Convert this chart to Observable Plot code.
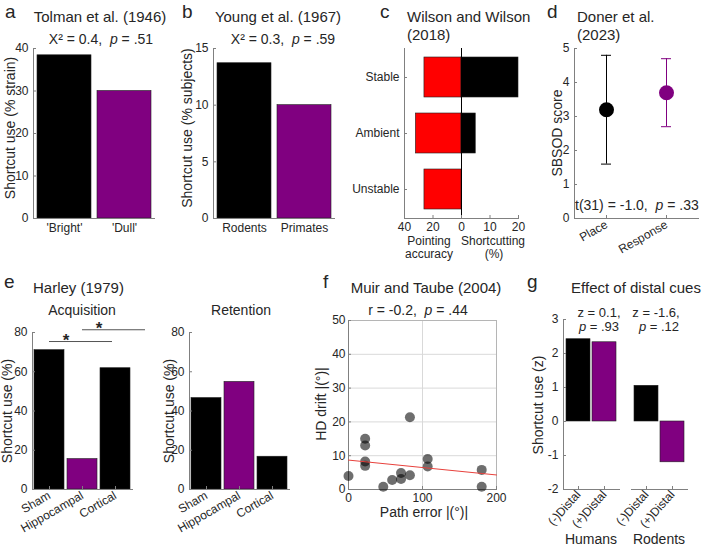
<!DOCTYPE html>
<html>
<head>
<meta charset="utf-8">
<script src="https://cdn.jsdelivr.net/npm/d3@7"></script>
<script src="https://cdn.jsdelivr.net/npm/@observablehq/plot@0.6"></script>
<style>
  html, body { margin: 0; padding: 0; background: #fff; }
  #fig { position: relative; width: 709px; height: 546px; overflow: hidden;
         font-family: "Liberation Sans", Arial, sans-serif; color: #262626; }
  .t { position: absolute; white-space: pre; line-height: 1; }
</style>
</head>
<body>
<div id="fig"></div>
<script>
// ---- data -------------------------------------------------------------
// a: Tolman et al. (1946)
const tolmanStrains = ["'Bright'", "'Dull'"];
const tolmanShortcut = [38.4, 30.0];
// b: Young et al. (1967)
const youngGroups = ["Rodents", "Primates"];
const youngShortcut = [13.7, 10.0];
// c: Wilson and Wilson (2018)
const wilsonConditions = ["Stable", "Ambient", "Unstable"];
const wilsonPointing = [26, 32, 26];
const wilsonShortcut = [20, 5, 0];
// d: Doner et al. (2023)
const donerGroups = ["Place", "Response"];
const donerMean = [3.2, 3.7];
const donerLower = [1.6, 2.7];
const donerUpper = [4.8, 4.7];
// e: Harley (1979)
const harleyLesions = ["Sham", "Hippocampal", "Cortical"];
const harleyAcquisition = [71.0, 15.5, 61.8];
const harleyRetention = [46.6, 54.8, 16.7];
const harleySigFrom = ["Sham", "Hippocampal"];
const harleySigTo = ["Hippocampal", "Cortical"];
const harleySigLevel = [75.4, 81.4];
// f: Muir and Taube (2004)
const muirPathError = [0, 22.5, 22.5, 22.5, 22.5, 47, 59, 71, 71, 83, 83, 107, 107, 180, 180];
const muirDrift = [4.0, 15.0, 13.0, 8.3, 7.0, 0.8, 2.8, 4.9, 3.1, 21.4, 4.2, 9.0, 6.8, 5.8, 0.8];
const muirFitX = [0, 200];
const muirFitY = [8.7, 4.3];
// g: effect of distal cues
const distalConditions = ["(-)Distal", "(+)Distal"];
const distalHumans = [2.42, 2.33];
const distalRodents = [1.05, -1.2];

// ---- styling ----------------------------------------------------------
const FONT = "'Liberation Sans', Arial, sans-serif";
const INK = "#262626";
const AXIS = "#808080";
const EDGE = "#1e1e1e";
const BLACK = "#000000";
const PURPLE = "#800080";
const RED = "#ff0000";
const POINTING_PER_UNIT = 2; // pointing-accuracy units per shortcut-% unit in panel c

const fig = document.getElementById("fig");
const rows = (keys, ...cols) => keys.map((k, i) => Object.fromEntries([["key", k], ...cols.map(([n, c]) => [n, c[i]])]));
const pairFill = (d, i) => (i === 1 ? PURPLE : BLACK);

function addPlot(left, top, options) {
  const svg = Plot.plot({
    ...options,
    style: {fontFamily: FONT, fontSize: "12px", color: INK, background: "none", overflow: "visible"}
  });
  svg.style.position = "absolute";
  svg.style.left = left + "px";
  svg.style.top = top + "px";
  fig.appendChild(svg);
  return svg;
}

// Places a line of text by its baseline; lineHeight is a multiple of the font size.
function addText(html, x, baseline, size = 14, align = "left", lineHeight = 1) {
  const el = document.createElement("div");
  el.className = "t";
  el.innerHTML = html;
  el.style.fontSize = size + "px";
  el.style.lineHeight = String(lineHeight);
  el.style.left = x + "px";
  el.style.top = (baseline - (lineHeight / 2 + 0.3465) * size) + "px";
  if (align === "center") el.style.transform = "translateX(-50%)";
  fig.appendChild(el);
}
const addLetter = (ch, x, baseline) => addText(ch, x, baseline, 19, "left", 1);

function addVText(text, cx, cy, size = 14) {
  const el = document.createElement("div");
  el.className = "t";
  el.textContent = text;
  el.style.fontSize = size + "px";
  el.style.left = cx + "px";
  el.style.top = cy + "px";
  el.style.transform = "translate(-50%, -50%) rotate(-90deg)";
  fig.appendChild(el);
}

const yAxis = (ticks, extra = {}) =>
  Plot.axisY({ticks, tickSize: -3, tickPadding: 8, label: null, stroke: AXIS, fill: INK, tickFormat: (d) => String(d), ...extra});
const xAxis = (extra = {}) =>
  Plot.axisX({tickSize: -3, tickPadding: 7, label: null, stroke: AXIS, fill: INK, ...extra});
const spine = (anchor, stroke = AXIS) => Plot.frame({anchor, stroke});

// ---- a: Tolman et al. (1946) -----------------------------------------
addPlot(0, 40, {
  width: 165, height: 200, marginLeft: 33, marginRight: 11, marginTop: 8, marginBottom: 22,
  x: {type: "band", domain: tolmanStrains, paddingInner: 0.1, paddingOuter: 0.05},
  y: {domain: [0, 40]},
  marks: [
    Plot.barY(rows(tolmanStrains, ["v", tolmanShortcut]), {x: "key", y: "v", fill: pairFill, stroke: EDGE, strokeWidth: 0.6}),
    spine("left"), spine("bottom"),
    yAxis([0, 10, 20, 30, 40]),
    xAxis({tickSize: 0, tickPadding: 5})
  ]
});

// ---- b: Young et al. (1967) ------------------------------------------
addPlot(170, 40, {
  width: 170, height: 200, marginLeft: 43, marginRight: 6, marginTop: 8, marginBottom: 22,
  x: {type: "band", domain: youngGroups, paddingInner: 0.1, paddingOuter: 0.05},
  y: {domain: [0, 15]},
  marks: [
    Plot.barY(rows(youngGroups, ["v", youngShortcut]), {x: "key", y: "v", fill: pairFill, stroke: EDGE, strokeWidth: 0.6}),
    spine("left"), spine("bottom"),
    yAxis([0, 5, 10, 15]),
    xAxis({tickSize: 0, tickPadding: 5})
  ]
});

// ---- c: Wilson and Wilson (2018) -------------------------------------
const wilsonRows = rows(wilsonConditions, ["pointing", wilsonPointing], ["shortcut", wilsonShortcut]);
addPlot(350, 40, {
  width: 180, height: 200, marginLeft: 54, marginRight: 12, marginTop: 8, marginBottom: 22,
  x: {domain: [-20, 20]},
  y: {type: "band", domain: wilsonConditions, paddingInner: 0.29, paddingOuter: 0.16},
  marks: [
    Plot.barX(wilsonRows, {y: "key", x1: 0, x2: (d) => -d.pointing / POINTING_PER_UNIT, fill: RED, stroke: EDGE, strokeWidth: 0.6}),
    Plot.barX(wilsonRows, {y: "key", x1: 0, x2: "shortcut", fill: BLACK, stroke: EDGE, strokeWidth: 0.6}),
    Plot.ruleX([0], {stroke: BLACK, strokeWidth: 1}),
    spine("left"), spine("bottom"),
    Plot.axisY({tickSize: -3, tickPadding: 8, label: null, stroke: AXIS, fill: INK}),
    xAxis({ticks: [-20, -10, 0, 10, 20], tickFormat: (d) => String(d < 0 ? -d * POINTING_PER_UNIT : d)})
  ]
});

// ---- d: Doner et al. (2023) ------------------------------------------
const donerRows = rows(donerGroups, ["mean", donerMean], ["lo", donerLower], ["hi", donerUpper]);
addPlot(530, 40, {
  width: 179, height: 230, marginLeft: 44, marginRight: 11, marginTop: 8, marginBottom: 52,
  x: {type: "band", domain: donerGroups, paddingInner: 0.836, paddingOuter: 0.443},
  y: {domain: [0, 5]},
  marks: [
    Plot.ruleX(donerRows, {x: "key", y1: "lo", y2: "hi", stroke: pairFill, strokeWidth: 1}),
    Plot.tickY(donerRows, {x: "key", y: "lo", stroke: pairFill, strokeWidth: 1}),
    Plot.tickY(donerRows, {x: "key", y: "hi", stroke: pairFill, strokeWidth: 1}),
    Plot.dot(donerRows, {x: "key", y: "mean", r: 7.5, fill: pairFill}),
    spine("left"), spine("bottom"),
    yAxis([0, 1, 2, 3, 4, 5]),
    xAxis({tickRotate: -30, tickPadding: 8})
  ]
});

// ---- e: Harley (1979) ------------------------------------------------
const harleySig = harleySigFrom.map((from, i) => ({from, to: harleySigTo[i], level: harleySigLevel[i]}));
const harleyStep = 100 / harleyLesions.length; // band step over the 100px frame
const harleyBand = harleyStep * 0.9;           // bar width (paddingInner 0.1)
function harleyPanel(left, marginLeft, marginRight, values, withSig) {
  addPlot(left, 320, {
    width: 160, height: 226, marginLeft, marginRight, marginTop: 12, marginBottom: 57,
    x: {type: "band", domain: harleyLesions, paddingInner: 0.1, paddingOuter: 0.05},
    y: {domain: [0, 80]},
    marks: [
      Plot.barY(rows(harleyLesions, ["v", values]), {x: "key", y: "v", fill: pairFill, stroke: EDGE, strokeWidth: 0.6}),
      // significance brackets run between bar centres, the star sits midway
      withSig ? Plot.ruleY(harleySig, {x1: "from", x2: "to", y: "level", dx: harleyBand / 2, stroke: "#555", strokeWidth: 1}) : null,
      withSig ? Plot.text(harleySig, {x: "from", y: "level", text: () => "*", dx: harleyStep / 2, dy: -1, fontSize: 17, fontWeight: "bold", fill: INK}) : null,
      spine("left"), spine("bottom"),
      yAxis([0, 20, 40, 60, 80]),
      xAxis({tickRotate: -30, tickPadding: 8})
    ]
  });
}
harleyPanel(0, 32, 28, harleyAcquisition, true);
harleyPanel(150, 39, 21, harleyRetention, false);

// ---- f: Muir and Taube (2004) ----------------------------------------
const muirRows = muirPathError.map((x, i) => ({x, y: muirDrift[i]}));
const muirFit = muirFitX.map((x, i) => ({x, y: muirFitY[i]}));
addPlot(300, 300, {
  width: 215, height: 215, marginLeft: 48, marginRight: 19, marginTop: 20, marginBottom: 26,
  x: {domain: [0, 200]},
  y: {domain: [0, 50]},
  marks: [
    Plot.gridX({ticks: [0, 100, 200], stroke: "#d9d9d9", strokeOpacity: 1}),
    Plot.gridY({ticks: [0, 10, 20, 30, 40, 50], stroke: "#d9d9d9", strokeOpacity: 1}),
    Plot.frame({stroke: "#b5b5b5"}),
    spine("left"), spine("bottom"),
    Plot.dot(muirRows, {x: "x", y: "y", r: 5, fill: BLACK, fillOpacity: 0.57}),
    Plot.line(muirFit, {x: "x", y: "y", stroke: "#e8413c", strokeWidth: 1}),
    yAxis([0, 10, 20, 30, 40, 50], {tickPadding: 6}),
    xAxis({ticks: [0, 100, 200]})
  ]
});

// ---- g: effect of distal cues ----------------------------------------
function distalPanel(left, width, marginLeft, marginRight, values, withYAxis) {
  addPlot(left, 300, {
    width, height: 246, marginLeft, marginRight, marginTop: 19, marginBottom: 57,
    x: {type: "band", domain: distalConditions, paddingInner: 0.06, paddingOuter: 0.07},
    y: {domain: [-2, 3], axis: withYAxis ? undefined : null},
    marks: [
      Plot.barY(rows(distalConditions, ["v", values]), {x: "key", y: "v", fill: pairFill, stroke: EDGE, strokeWidth: 0.6}),
      withYAxis ? spine("left") : null,
      spine("bottom"),
      withYAxis ? yAxis([-2, -1, 0, 1, 2, 3]) : null,
      xAxis({tickRotate: -48, tickPadding: 6})
    ]
  });
}
distalPanel(510, 115, 53, 6, distalHumans, true);
distalPanel(625, 84, 6, 22, distalRodents, false);

// ---- titles, statistics and axis labels ------------------------------
addLetter("a", 5, 18);
addLetter("b", 182, 18);
addLetter("c", 380, 18);
addLetter("d", 547, 18);
addLetter("e", 4, 288);
addLetter("f", 323, 288);
addLetter("g", 527, 288);

addText("Tolman et al. (1946)", 100, 22, 15, "center");
addText("X² = 0.4,  <i>p</i> = .51", 101, 44, 14, "center");
addText("Young et al. (1967)", 278, 22, 15, "center");
addText("X² = 0.3,  <i>p</i> = .59", 283, 44, 14, "center");
addText("Wilson and Wilson", 407, 22, 15);
addText("(2018)", 407, 40, 15);
addText("Doner et al.", 577, 22, 15);
addText("(2023)", 577, 40, 15);
addText("t(31) = -1.0,  <i>p</i> = .33", 575, 210, 14);

addText("Pointing", 429, 245, 12, "center");
addText("accuracy", 429, 258, 12, "center");
addText("Shortcutting", 493, 245, 12, "center");
addText("(%)", 494, 258, 12, "center");

addVText("Shortcut use (% strain)", 10, 128);
addVText("Shortcut use (% subjects)", 187, 128);
addVText("SBSOD score", 557, 133);

addText("Harley (1979)", 33, 293, 15);
addText("Acquisition", 82, 315, 14, "center");
addText("Retention", 241, 315, 14, "center");
addVText("Shortcut use (%)", 7, 411);
addVText("Shortcut use (%)", 169, 411);

addText("Muir and Taube (2004)", 426, 293, 15, "center");
addText("r = -0.2,  <i>p</i> = .44", 418, 315, 14, "center");
addVText("HD drift |(°)|", 321, 404);
addText("Path error |(°)|", 424, 517, 14, "center");

addText("Effect of distal cues", 636, 293, 15, "center");
addText("z = 0.1,", 599, 317, 13, "center");
addText("<i>p</i> = .93", 599, 331, 13, "center");
addText("z = -1.6,", 656, 317, 13, "center");
addText("<i>p</i> = .12", 659, 331, 13, "center");
addVText("Shortcut use (z)", 538, 405);
addText("Humans", 591, 544, 14, "center");
addText("Rodents", 659, 544, 14, "center");
</script>
</body>
</html>
